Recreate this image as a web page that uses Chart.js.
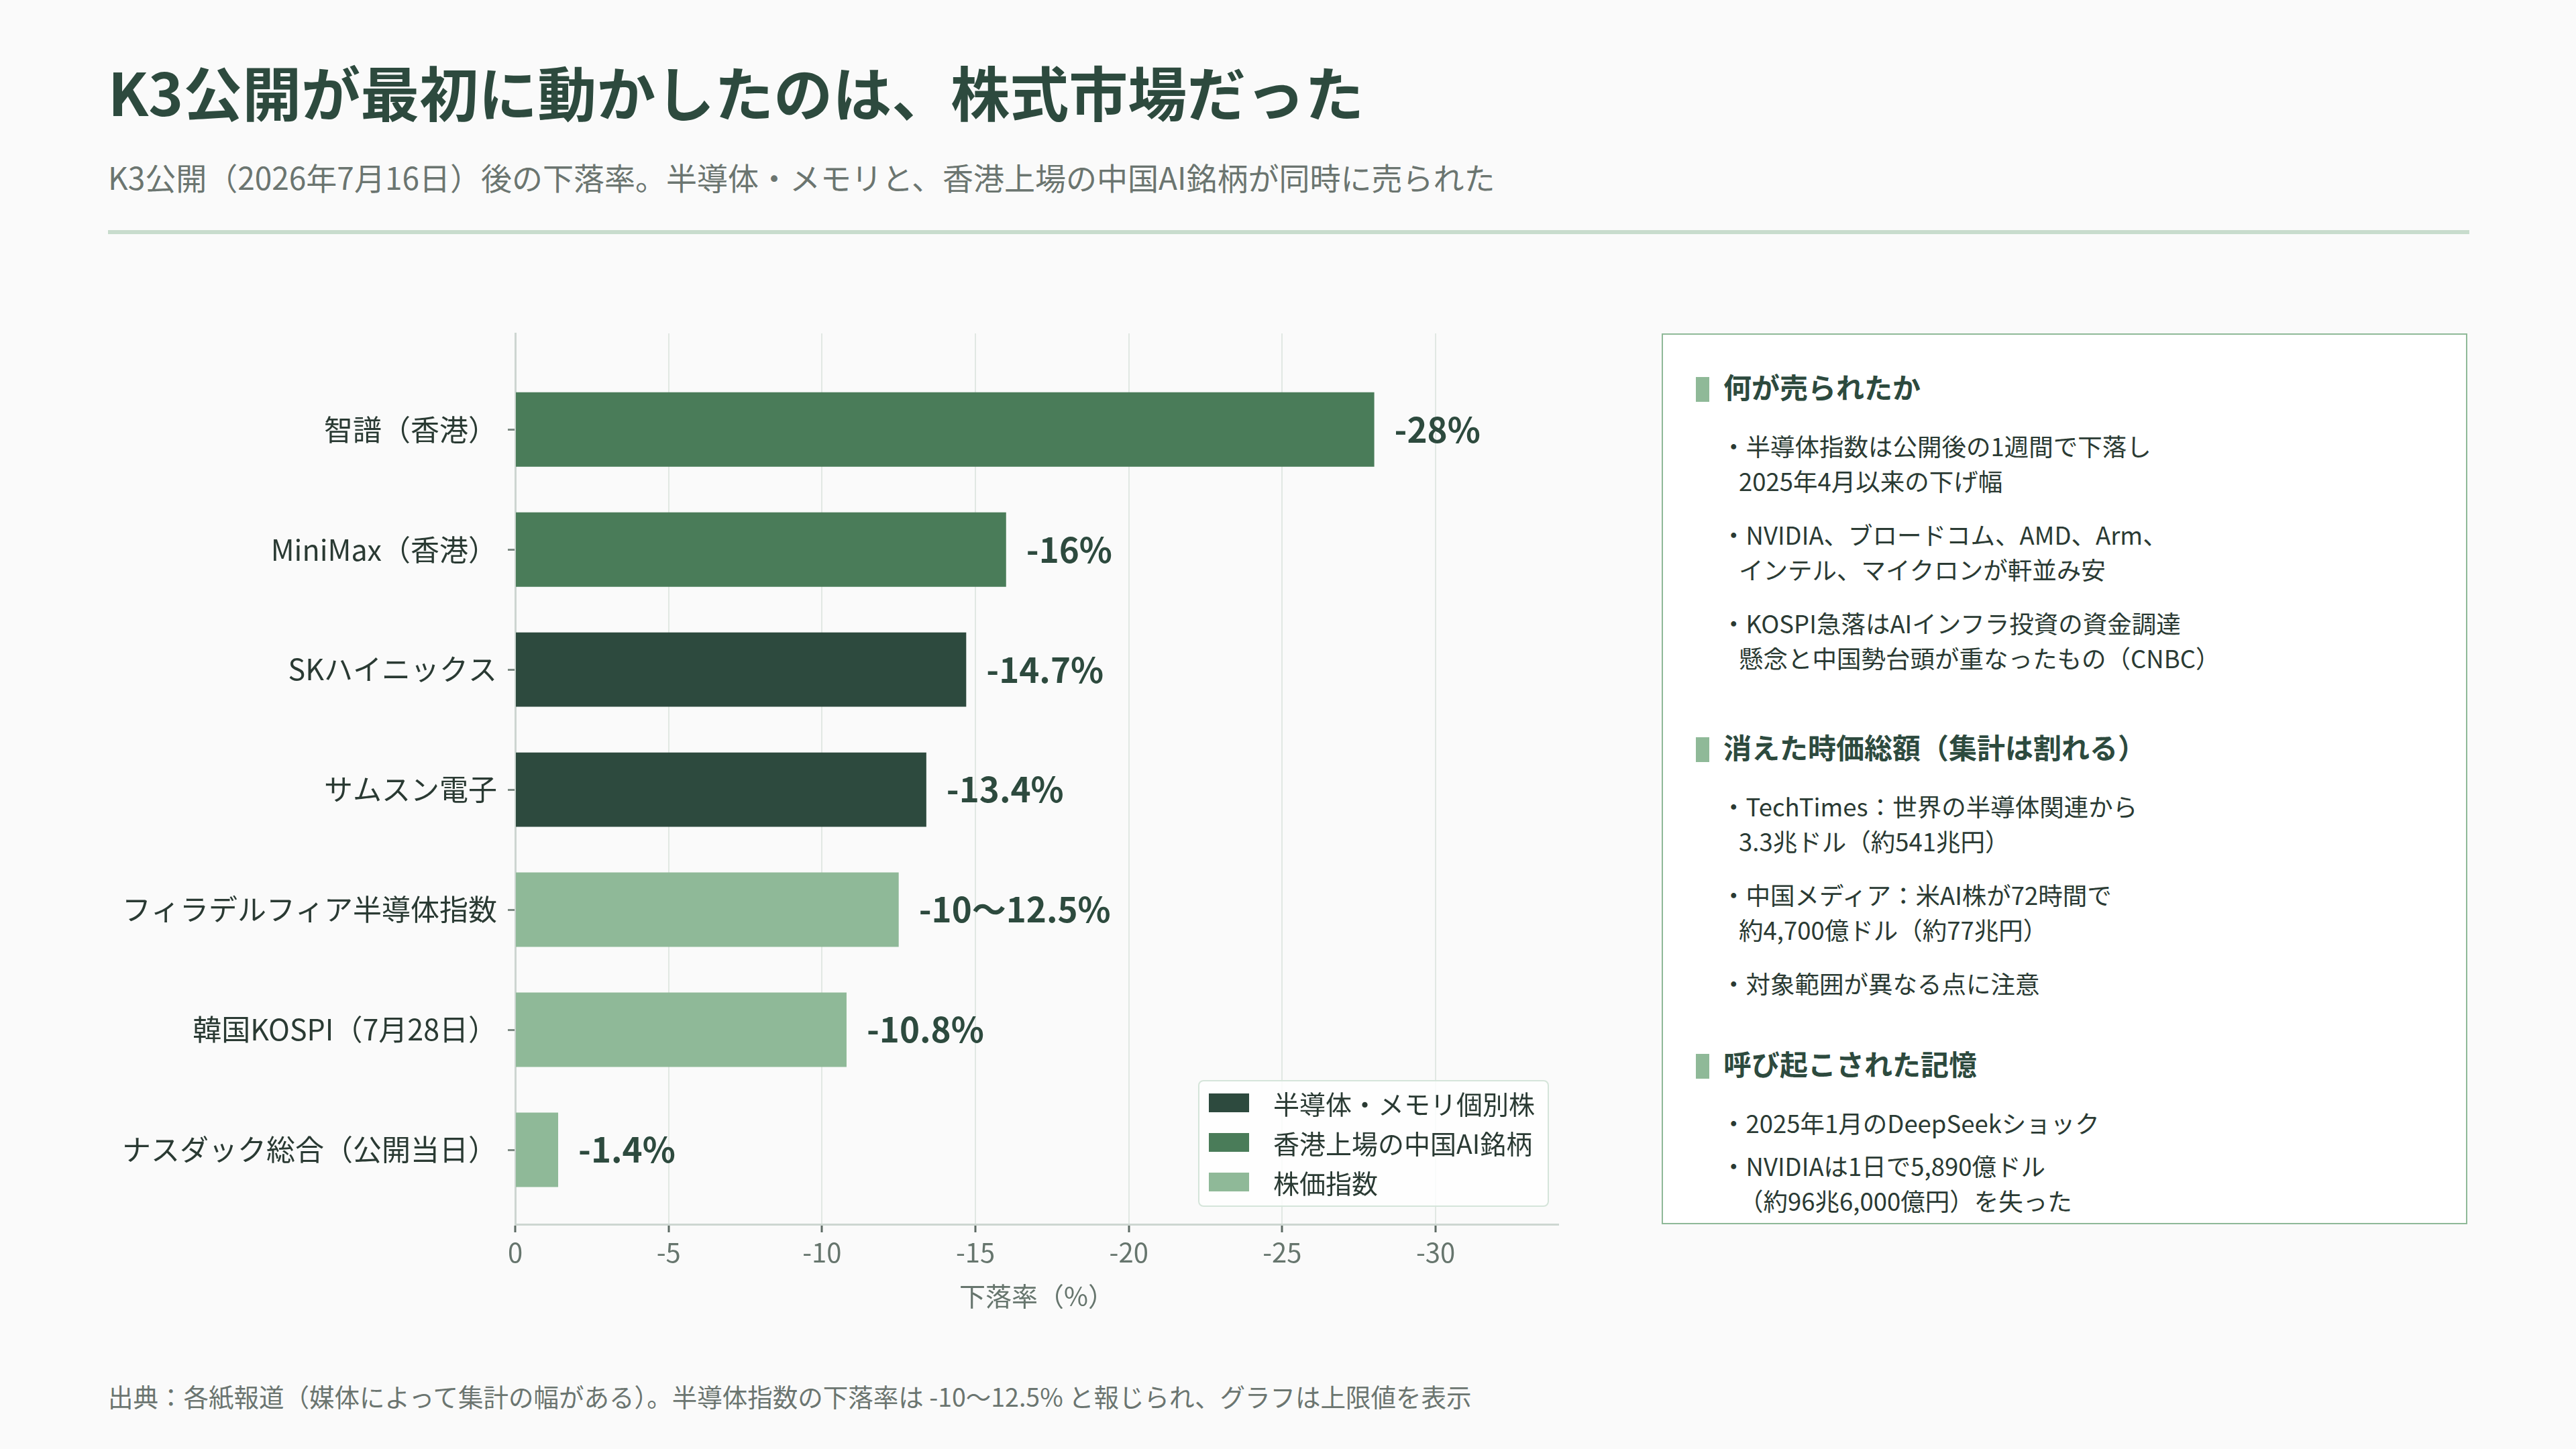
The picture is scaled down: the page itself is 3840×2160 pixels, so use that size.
<!DOCTYPE html>
<html lang="ja">
<head>
<meta charset="utf-8">
<script src="https://cdn.jsdelivr.net/npm/chart.js@4.4.1/dist/chart.umd.min.js"></script>
<style>
  html, body { margin: 0; padding: 0; }
  body {
    width: 3840px; height: 2160px; overflow: hidden; position: relative;
    background: #fafafa;
    font-family: "Noto Sans CJK JP", "Noto Sans", sans-serif;
  }
  .title {
    position: absolute; left: 161px; top: 91px;
    font-size: 88px; font-weight: 700; line-height: 1; color: #2d4a3e; white-space: nowrap;
  }
  .subtitle {
    position: absolute; left: 161px; top: 240px;
    font-size: 46px; line-height: 1; color: #6b7570; white-space: nowrap;
  }
  .rule { position: absolute; left: 161px; top: 343px; width: 3520px; height: 6px; background: #c8dccd; }
  .footer {
    position: absolute; left: 161px; top: 2062px;
    font-size: 37.5px; line-height: 1; color: #6b7570; white-space: nowrap;
  }
  #chartBox { position: absolute; left: 0; top: 440px; width: 2460px; height: 1560px; }
  #legend {
    position: absolute; left: 1786px; top: 1610px; width: 523px; height: 189px; box-sizing: border-box;
    border: 2px solid #d5e5da; border-radius: 8px; background: rgba(255,255,255,0.8);
    padding-top: 2px;
  }
  .lg-row { height: 59px; display: flex; align-items: center; }
  .lg-sw { width: 60px; height: 28px; margin-left: 14px; margin-right: 36px; }
  .lg-tx { font-size: 39px; color: #2a3a33; white-space: nowrap; }
  .panel {
    position: absolute; left: 2477px; top: 497px; width: 1201px; height: 1328px; box-sizing: border-box;
    border: 2px solid #8fb998; background: #ffffff;
  }
  .sec { position: absolute; left: 0; right: 0; }
  .sec h3 {
    position: relative; margin: 0; padding-left: 90px;
    font-size: 42px; line-height: 50px; font-weight: 700; color: #2d4a3e; white-space: nowrap;
  }
  .sec h3::before {
    content: ""; position: absolute; left: 49px; top: 11px; width: 20px; height: 37px; background: #8fb998;
  }
  .sec ul { list-style: none; margin: 38px 0 0 0; padding: 0; }
  .sec li { margin: 0 0 28px 0; font-size: 36.5px; line-height: 52px; color: #2a3a33; white-space: nowrap; }
  .sec li div { padding-left: 113px; }
  .sec li div.first { padding-left: 87px; }
  .sec.tight li { margin-bottom: 12px; }
</style>
</head>
<body>
<div class="title">K3公開が最初に動かしたのは、株式市場だった</div>
<div class="subtitle">K3公開（2026年7月16日）後の下落率。半導体・メモリと、香港上場の中国AI銘柄が同時に売られた</div>
<div class="rule"></div>

<div id="chartBox"><canvas id="myChart" width="2460" height="1560"></canvas></div>
<div id="legend"></div>

<div class="panel">
  <div class="sec" style="top:52px">
    <h3>何が売られたか</h3>
    <ul>
      <li><div class="first">・半導体指数は公開後の1週間で下落し</div><div>2025年4月以来の下げ幅</div></li>
      <li><div class="first">・NVIDIA、ブロードコム、AMD、Arm、</div><div>インテル、マイクロンが軒並み安</div></li>
      <li><div class="first">・KOSPI急落はAIインフラ投資の資金調達</div><div>懸念と中国勢台頭が重なったもの（CNBC）</div></li>
    </ul>
  </div>
  <div class="sec" style="top:589px">
    <h3>消えた時価総額（集計は割れる）</h3>
    <ul>
      <li><div class="first">・TechTimes：世界の半導体関連から</div><div>3.3兆ドル（約541兆円）</div></li>
      <li><div class="first">・中国メディア：米AI株が72時間で</div><div>約4,700億ドル（約77兆円）</div></li>
      <li><div class="first">・対象範囲が異なる点に注意</div></li>
    </ul>
  </div>
  <div class="sec tight" style="top:1061px">
    <h3>呼び起こされた記憶</h3>
    <ul>
      <li><div class="first">・2025年1月のDeepSeekショック</div></li>
      <li><div class="first">・NVIDIAは1日で5,890億ドル</div><div>（約96兆6,000億円）を失った</div></li>
    </ul>
  </div>
</div>

<div class="footer">出典：各紙報道（媒体によって集計の幅がある）。半導体指数の下落率は -10〜12.5% と報じられ、グラフは上限値を表示</div>

<script>
var categories = ["智譜（香港）", "MiniMax（香港）", "SKハイニックス", "サムスン電子",
  "フィラデルフィア半導体指数", "韓国KOSPI（7月28日）", "ナスダック総合（公開当日）"];
var drops = [-28, -16, -14.7, -13.4, -12.5, -10.8, -1.4];
var dropLabels = ["-28%", "-16%", "-14.7%", "-13.4%", "-10〜12.5%", "-10.8%", "-1.4%"];
// 0 = semis/memory, 1 = HK-listed China AI, 2 = index
var groups = [1, 1, 0, 0, 2, 2, 2];
var groupNames = ["半導体・メモリ個別株", "香港上場の中国AI銘柄", "株価指数"];
var groupColors = ["#2d4a3e", "#4a7c59", "#8fb998"];
var xTickValues = [0, -5, -10, -15, -20, -25, -30];

var FONT = '"Noto Sans CJK JP", "Noto Sans", sans-serif';
Chart.defaults.font.family = FONT;

var datasets = groupNames.map(function (name, g) {
  var pts = [];
  for (var i = 0; i < categories.length; i++) {
    if (groups[i] === g) pts.push({ x: drops[i], y: i });
  }
  return {
    label: name,
    data: pts,
    backgroundColor: groupColors[g],
    borderWidth: 0,
    grouped: false,
    barPercentage: 0.62,
    categoryPercentage: 1
  };
});

// labels to the right of every bar end
var valueLabels = {
  id: 'valueLabels',
  afterDatasetsDraw: function (chart) {
    var ctx = chart.ctx;
    ctx.save();
    ctx.font = 'bold 51px ' + FONT;
    ctx.fillStyle = '#2d4a3e';
    ctx.textAlign = 'left';
    ctx.textBaseline = 'middle';
    chart.data.datasets.forEach(function (ds, d) {
      chart.getDatasetMeta(d).data.forEach(function (bar, j) {
        ctx.fillText(dropLabels[ds.data[j].y], bar.x + 30, bar.y);
      });
    });
    ctx.restore();
  }
};

var ctx = document.getElementById("myChart").getContext("2d");
var chart = new Chart(ctx, {
  type: 'bar',
  data: { datasets: datasets },
  options: {
    indexAxis: 'y',
    responsive: false,
    animation: false,
    devicePixelRatio: 1,
    layout: { padding: { top: 57, right: 137, bottom: 44, left: 0 } },
    plugins: { legend: { display: false }, tooltip: { enabled: false } },
    scales: {
      x: {
        type: 'linear',
        min: -34, max: 0,
        reverse: true,
        bounds: 'data',
        grid: { color: '#e1e8e3', lineWidth: 2, tickColor: '#5d6b64', tickLength: 12, tickWidth: 3 },
        border: { color: '#cdd6d1', width: 3 },
        ticks: { font: { size: 40 }, color: '#66756d', padding: 6 },
        afterBuildTicks: function (s) {
          s.ticks = xTickValues.map(function (v) { return { value: v }; });
        },
        title: { display: true, text: '下落率（%）', font: { size: 39 }, color: '#66756d', padding: { top: 10, bottom: 0 } },
        afterFit: function (s) { s.height = 131; }
      },
      y: {
        type: 'linear',
        min: -0.8, max: 6.62,
        reverse: true,
        bounds: 'data',
        offset: false,
        grid: { offset: false, drawOnChartArea: false, tickColor: '#7d8a83', tickLength: 11, tickWidth: 3 },
        border: { color: '#cdd6d1', width: 3 },
        ticks: {
          font: { size: 43 }, color: '#2a3a33', padding: 16,
          callback: function (v) { return categories[v]; }
        },
        afterBuildTicks: function (s) {
          s.ticks = categories.map(function (c, i) { return { value: i }; });
        },
        afterFit: function (s) { s.width = 768; }
      }
    }
  },
  plugins: [valueLabels]
});

// html legend built from the datasets
var lg = document.getElementById('legend');
chart.data.datasets.forEach(function (ds) {
  var row = document.createElement('div');
  row.className = 'lg-row';
  row.innerHTML = '<div class="lg-sw" style="background:' + ds.backgroundColor + '"></div><div class="lg-tx">' + ds.label + '</div>';
  lg.appendChild(row);
});
</script>
</body>
</html>
